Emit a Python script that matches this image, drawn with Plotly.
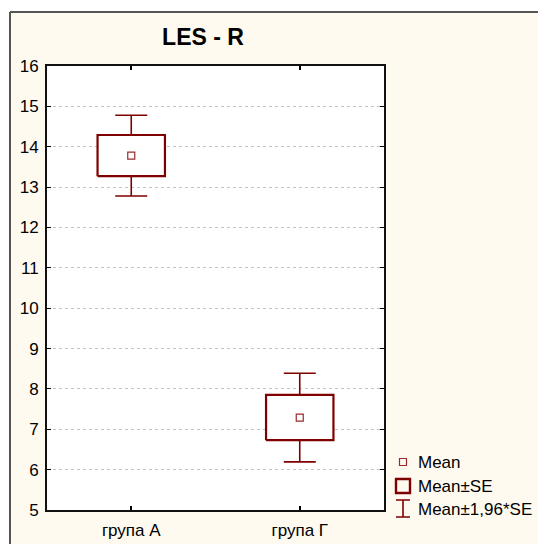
import plotly.graph_objects as go

# Summary statistics per group
groups = ["група А", "група Г"]
means = [13.78, 7.29]
se = [0.51, 0.56]
z = 1.96

title = "LES - R"
legend_labels = ["Mean", "Mean±SE", "Mean±1,96*SE"]
y_ticks = list(range(5, 17))

W, H = 538, 544
CREAM = "#FFFAF0"
DARK_RED = "#7F0000"
MEAN_RED = "#9A2B2B"
FONT = "Arial, Liberation Sans, sans-serif"

# plot area in pixels
px_l, px_r, px_t, px_b = 47, 384, 66, 510


def fx(px):
    return px / W


def fy(py):
    return 1 - py / H


xs = list(range(len(groups)))
half = 0.2

fig = go.Figure()

# whiskers: mean ± 1.96*SE
fig.add_trace(go.Scatter(
    x=xs, y=means, mode="markers",
    marker=dict(size=1, color="rgba(0,0,0,0)"),
    error_y=dict(type="data", array=[z * s for s in se], color=DARK_RED,
                 thickness=1.6, width=16),
    showlegend=False, hoverinfo="skip",
))

# boxes: mean ± SE, filled white so whiskers stop at the box edges
for x, m, s in zip(xs, means, se):
    fig.add_trace(go.Scatter(
        x=[x - half, x + half, x + half, x - half, x - half],
        y=[m - s, m - s, m + s, m + s, m - s],
        mode="lines", fill="toself", fillcolor="white",
        line=dict(color=DARK_RED, width=2.2),
        showlegend=False, hoverinfo="skip",
    ))

# means
fig.add_trace(go.Scatter(
    x=xs, y=means, mode="markers",
    marker=dict(symbol="square", size=7, color="white",
                line=dict(color=MEAN_RED, width=1.2)),
    showlegend=False,
))

# legend drawn on its own pixel-scaled axes to the right of the plot
lx, ltx = 403, 416
ly = [462, 486, 509]
fig.add_trace(go.Scatter(
    x=[lx], y=[ly[0]], xaxis="x2", yaxis="y2", mode="markers",
    marker=dict(symbol="square", size=7, color="rgba(0,0,0,0)",
                line=dict(color=MEAN_RED, width=1.2)),
    showlegend=False, hoverinfo="skip", cliponaxis=False,
))
fig.add_trace(go.Scatter(
    x=[lx], y=[ly[1]], xaxis="x2", yaxis="y2", mode="markers",
    marker=dict(symbol="square", size=14, color="rgba(0,0,0,0)",
                line=dict(color=DARK_RED, width=2.4)),
    showlegend=False, hoverinfo="skip", cliponaxis=False,
))
fig.add_trace(go.Scatter(
    x=[lx], y=[ly[2] - 0.5], xaxis="x2", yaxis="y2", mode="markers",
    marker=dict(size=1, color="rgba(0,0,0,0)"),
    error_y=dict(type="data", array=[8.5], color=DARK_RED, thickness=1.6, width=7),
    showlegend=False, hoverinfo="skip", cliponaxis=False,
))

annotations = [
    dict(x=ltx, y=yy, xref="x2", yref="y2", text=t, showarrow=False,
         xanchor="left", yanchor="middle", font=dict(family=FONT, size=17, color="black"))
    for t, yy in zip(legend_labels, ly)
]

shapes = [
    # white plot area (below the gridlines)
    dict(type="rect", xref="x domain", yref="y domain", x0=0, x1=1, y0=0, y1=1,
         fillcolor="white", line=dict(width=0), layer="below"),
    # white strips outside the cream frame
    dict(type="rect", xref="paper", yref="paper", x0=0, x1=fx(10), y0=0, y1=1,
         fillcolor="white", line=dict(width=0), layer="below"),
    dict(type="rect", xref="paper", yref="paper", x0=0, x1=1, y0=fy(12), y1=1,
         fillcolor="white", line=dict(width=0), layer="below"),
    # frame lines
    dict(type="line", xref="paper", yref="paper", x0=fx(10), x1=fx(10), y0=-0.05, y1=fy(12),
         line=dict(color="#555555", width=2)),
    dict(type="line", xref="paper", yref="paper", x0=fx(10), x1=1.05, y0=fy(12), y1=fy(12),
         line=dict(color="#555555", width=2)),
]

fig.update_layout(
    width=W, height=H,
    margin=dict(l=0, r=0, t=0, b=0),
    paper_bgcolor=CREAM,
    plot_bgcolor="rgba(0,0,0,0)",
    showlegend=False,
    font=dict(family=FONT, size=17, color="black"),
    title=dict(text=title, x=fx(203), y=fy(37), xanchor="center", yanchor="middle",
               xref="paper", yref="paper",
               font=dict(family=FONT, size=23, color="black", weight="bold")),
    xaxis=dict(
        domain=[fx(px_l), fx(px_r)], range=[-0.5, 1.5],
        tickvals=xs, ticktext=groups,
        ticks="inside", ticklen=4, tickwidth=1.5, tickcolor="black",
        showline=True, linecolor="#111111", linewidth=2, mirror="ticks",
        showgrid=False, zeroline=False, automargin=False,
        tickfont=dict(family=FONT, size=17, color="black"),
        ticklabelstandoff=4, fixedrange=True,
    ),
    yaxis=dict(
        domain=[fy(px_b), fy(px_t)], range=[5, 16],
        tickvals=y_ticks,
        ticks="inside", ticklen=4, tickwidth=1, tickcolor="black",
        showline=True, linecolor="#111111", linewidth=2, mirror="ticks",
        showgrid=True, gridcolor="#C4C4C4", gridwidth=1, griddash="dot",
        zeroline=False, automargin=False,
        tickfont=dict(family=FONT, size=17, color="black"),
        ticklabelstandoff=3, fixedrange=True,
    ),
    xaxis2=dict(domain=[0, 1], range=[0, W], visible=False, fixedrange=True),
    yaxis2=dict(domain=[0, 1], range=[H, 0], visible=False, fixedrange=True),
    annotations=annotations,
    shapes=shapes,
)

fig.write_html("out.html")
